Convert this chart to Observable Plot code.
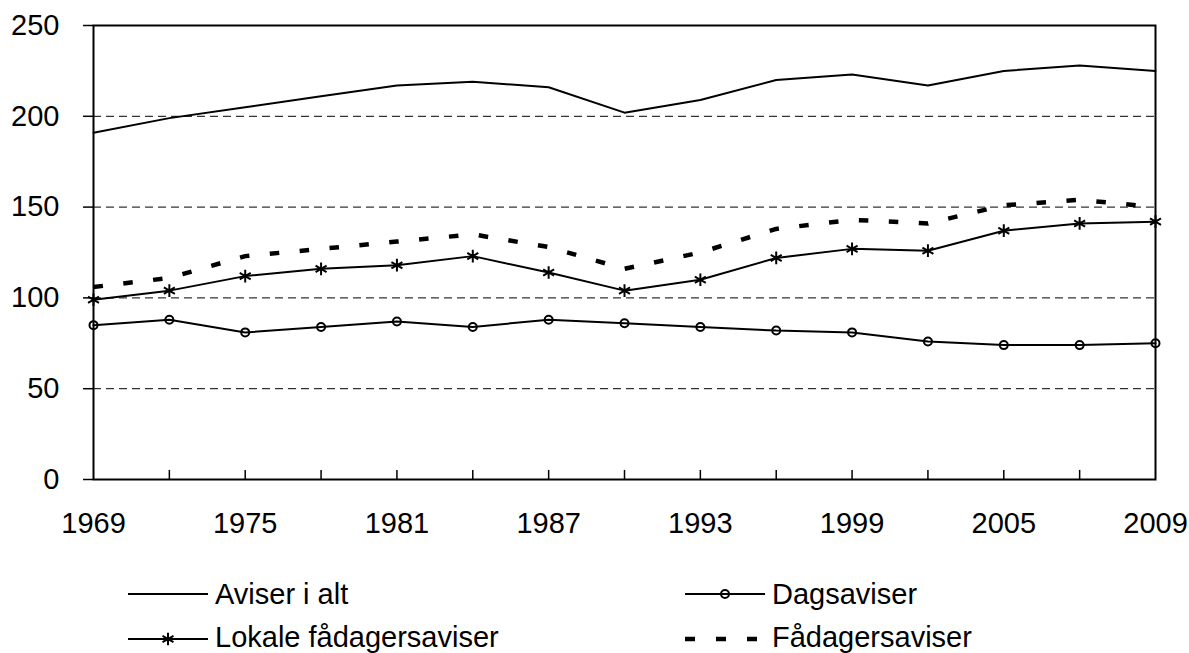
<!DOCTYPE html>
<html><head><meta charset="utf-8">
<script src="https://cdn.jsdelivr.net/npm/d3@7"></script>
<script src="https://cdn.jsdelivr.net/npm/@observablehq/plot@0.6"></script>
<style>
html,body{margin:0;padding:0;background:#fff;}
#chart svg{display:block;}
</style></head><body><div id="chart"></div><script>
const years = ["1969","1972","1975","1978","1981","1984","1987","1990","1993","1996","1999","2002","2005","2007","2009"];
const labelYears = ["1969","1975","1981","1987","1993","1999","2005","2009"];
const aviserIAlt = [191, 199, 205, 211, 217, 219, 216, 202, 209, 220, 223, 217, 225, 228, 225];
const dagsaviser = [85, 88, 81, 84, 87, 84, 88, 86, 84, 82, 81, 76, 74, 74, 75];
const lokale = [99, 104, 112, 116, 118, 123, 114, 104, 110, 122, 127, 126, 137, 141, 142];
const faadager = [106, 111, 123, 127, 131, 135, 128, 116, 125, 138, 143, 141, 151, 154, 150];
const seriesNames = ["Aviser i alt", "Dagsaviser", "Lokale fådagersaviser", "Fådagersaviser"];
const yTicks = [0, 50, 100, 150, 200, 250];
const gridValues = [50, 100, 150, 200];

const table = vals => years.map((y, i) => ({year: y, value: vals[i]}));
const font = "'Liberation Sans', Arial, sans-serif";

const plot = Plot.plot({
  width: 1189, height: 545,
  marginLeft: 93, marginRight: 34, marginTop: 25, marginBottom: 66,
  style: {fontFamily: font, fontSize: "29px", color: "#000", background: "#fff", overflow: "visible"},
  x: {type: "point", domain: years, padding: 0, round: false},
  y: {domain: [0, 250]},
  marks: [
    Plot.ruleY(gridValues, {stroke: "#000", strokeWidth: 1, strokeDasharray: "8,5"}),
    Plot.ruleX(years.slice(1, -1), {y1: 0, y2: 5, stroke: "#000", strokeWidth: 1.5}),
    Plot.lineY(table(aviserIAlt), {x: "year", y: "value", stroke: "#000", strokeWidth: 2}),
    Plot.lineY(table(faadager), {x: "year", y: "value", stroke: "#000", strokeWidth: 4.5, strokeDasharray: "9.5,20.5", strokeLinecap: "butt"}),
    Plot.lineY(table(lokale), {x: "year", y: "value", stroke: "#000", strokeWidth: 2}),
    Plot.dot(table(lokale), {x: "year", y: "value", symbol: "asterisk", r: 6, stroke: "#000", strokeWidth: 2}),
    Plot.lineY(table(dagsaviser), {x: "year", y: "value", stroke: "#000", strokeWidth: 2}),
    Plot.dot(table(dagsaviser), {x: "year", y: "value", symbol: "circle", r: 4, fill: "none", stroke: "#000", strokeWidth: 2}),
    Plot.frame({stroke: "#000", strokeWidth: 2}),
    Plot.axisY({ticks: yTicks, tickSize: 10, tickPadding: 24, fontSize: 29, label: null, stroke: "#000", strokeWidth: 1.5}),
    Plot.axisX({ticks: labelYears, tickSize: 0, tickPadding: 33, fontSize: 29, label: null})
  ]
});
document.getElementById("chart").appendChild(plot);

// Legend below the plot
const leg = d3.create("svg").attr("width", 1189).attr("height", 108)
  .style("display", "block").style("font-family", font);
const items = [
  {name: seriesNames[0], x0: 128, row: 0, kind: "line"},
  {name: seriesNames[1], x0: 685, row: 0, kind: "circle"},
  {name: seriesNames[2], x0: 128, row: 1, kind: "asterisk"},
  {name: seriesNames[3], x0: 685, row: 1, kind: "dash"}
];
const rowLine = [49, 94], rowBase = [59, 102];
for (const it of items) {
  const g = leg.append("g");
  const yl = rowLine[it.row];
  const line = g.append("line").attr("x1", it.x0).attr("x2", it.x0 + 80).attr("y1", yl).attr("y2", yl)
    .attr("stroke", "#000").attr("stroke-width", 2);
  if (it.kind === "dash") {
    line.attr("x2", it.x0 + 72).attr("stroke-width", 4.5).attr("stroke-dasharray", "10,21");
  }
  if (it.kind === "circle") {
    g.append("circle").attr("cx", it.x0 + 40).attr("cy", yl).attr("r", 4)
      .attr("fill", "none").attr("stroke", "#000").attr("stroke-width", 2);
  }
  if (it.kind === "asterisk") {
    g.append("path").attr("transform", `translate(${it.x0 + 40},${yl})`)
      .attr("d", d3.symbol(d3.symbolAsterisk, Math.PI * 36)())
      .attr("fill", "none").attr("stroke", "#000").attr("stroke-width", 2);
  }
  g.append("text").attr("x", it.x0 + 87).attr("y", rowBase[it.row])
    .attr("font-size", 29).attr("fill", "#000").text(it.name);
}
document.getElementById("chart").appendChild(leg.node());
</script></body></html>
